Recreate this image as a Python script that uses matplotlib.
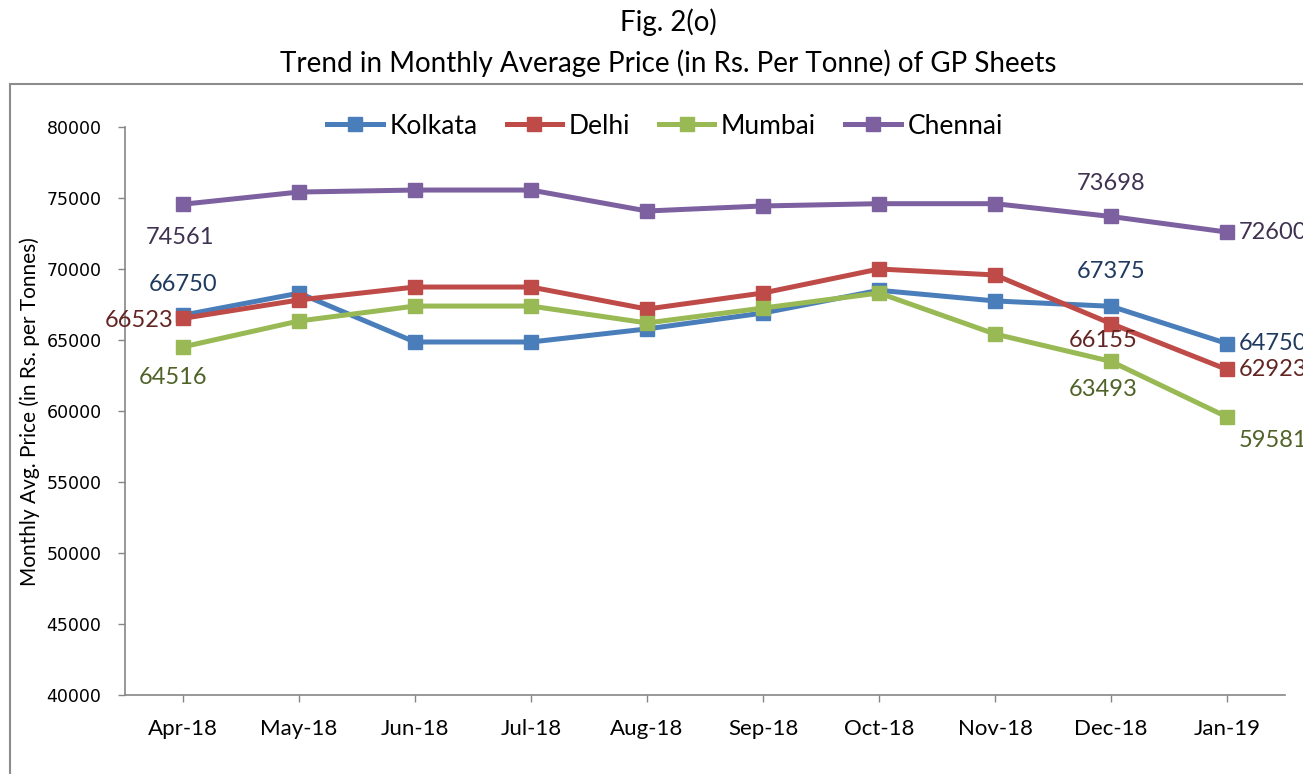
import matplotlib
matplotlib.use("Agg")
import matplotlib.pyplot as plt
from matplotlib.patches import Rectangle

plt.rcParams['font.family'] = ['Lato', 'DejaVu Sans']

months = ["Apr-18", "May-18", "Jun-18", "Jul-18", "Aug-18", "Sep-18",
          "Oct-18", "Nov-18", "Dec-18", "Jan-19"]
kolkata = [66750, 68300, 64860, 64860, 65780, 66900, 68500, 67750, 67375, 64750]
delhi = [66523, 67820, 68730, 68730, 67180, 68310, 70000, 69580, 66155, 62923]
mumbai = [64516, 66340, 67390, 67390, 66200, 67250, 68310, 65420, 63493, 59581]
chennai = [74561, 75420, 75560, 75560, 74085, 74440, 74600, 74600, 73698, 72600]

series = [
    ("Kolkata", kolkata, "#4A7EBB", "#1F3A5F"),
    ("Delhi", delhi, "#BE4B48", "#632523"),
    ("Mumbai", mumbai, "#98B954", "#4F6228"),
    ("Chennai", chennai, "#7D60A0", "#3F3151"),
]

# labelled points: (series index, point index, dx px, dy px, ha, va)
label_specs = [
    (3, 0, -3, -33, "center", "center"),
    (3, 8, 0, 33, "center", "center"),
    (3, 9, 12, 0, "left", "center"),
    (0, 0, 0, 31, "center", "center"),
    (0, 8, 0, 35, "center", "center"),
    (0, 9, 12, 0, "left", "center"),
    (1, 0, -10, -2, "right", "center"),
    (1, 8, -8, -17, "center", "center"),
    (1, 9, 12, 0, "left", "center"),
    (2, 0, -10, -31, "center", "center"),
    (2, 8, -8, -28, "center", "center"),
    (2, 9, 12, -24, "left", "center"),
]

W, H = 1303, 774
fig = plt.figure(figsize=(W / 100, H / 100), dpi=100)
ax = fig.add_axes([125 / W, 1 - 695 / H, (1285 - 125) / W, (695 - 127) / H])

x = list(range(len(months)))
for name, vals, col, _ in series:
    ax.plot(x, vals, color=col, lw=3.6, marker="s", markersize=10,
            solid_joinstyle="miter", label=name)

px2pt = 72 / 100
for si, pi, dx, dy, ha, va in label_specs:
    name, vals, col, lcol = series[si]
    ax.annotate(str(vals[pi]), (x[pi], vals[pi]), xytext=(dx * px2pt, dy * px2pt),
                textcoords="offset points", ha=ha, va=va, fontsize=17,
                color=lcol, annotation_clip=False)

ax.set_xlim(-0.5, len(months) - 0.5)
ax.set_ylim(40000, 80000)
ax.set_yticks(range(40000, 80001, 5000))
ax.set_xticks(x)
ax.set_xticklabels(months, fontsize=16)
for lab in ax.get_yticklabels():
    lab.set_fontfamily("DejaVu Sans")
    lab.set_fontsize(12.5)
ax.tick_params(axis="both", direction="out", length=5, color="#868686", width=1)
ax.tick_params(axis="x", pad=12)
ax.tick_params(axis="y", pad=12)
for s in ["top", "right"]:
    ax.spines[s].set_visible(False)
for s in ["left", "bottom"]:
    ax.spines[s].set_color("#868686")
    ax.spines[s].set_linewidth(1.2)

ax.set_ylabel("Monthly Avg. Price (in Rs. per Tonnes)", fontsize=15)
ax.yaxis.set_label_coords((40 - 125) / 1160, (695 - 412) / 568)

leg = ax.legend(loc="center", bbox_to_anchor=(665 / W, 1 - 126 / H),
                bbox_transform=fig.transFigure, ncol=4, frameon=False,
                fontsize=19, handlelength=2.1, handletextpad=0.25,
                columnspacing=1.1)

fig.text(668 / W, 1 - 22 / H, "Fig. 2(o)", ha="center", va="center", fontsize=20)
fig.text(668 / W, 1 - 63 / H, "Trend in Monthly Average Price (in Rs. Per Tonne) of GP Sheets",
         ha="center", va="center", fontsize=20)

fig.patches.append(Rectangle((10 / W, -0.05), 1.2, 0.05 + 1 - 84 / H,
                             transform=fig.transFigure, fill=False,
                             edgecolor="#8C8C8C", lw=1.5))

fig.savefig("out.png", dpi=100)
